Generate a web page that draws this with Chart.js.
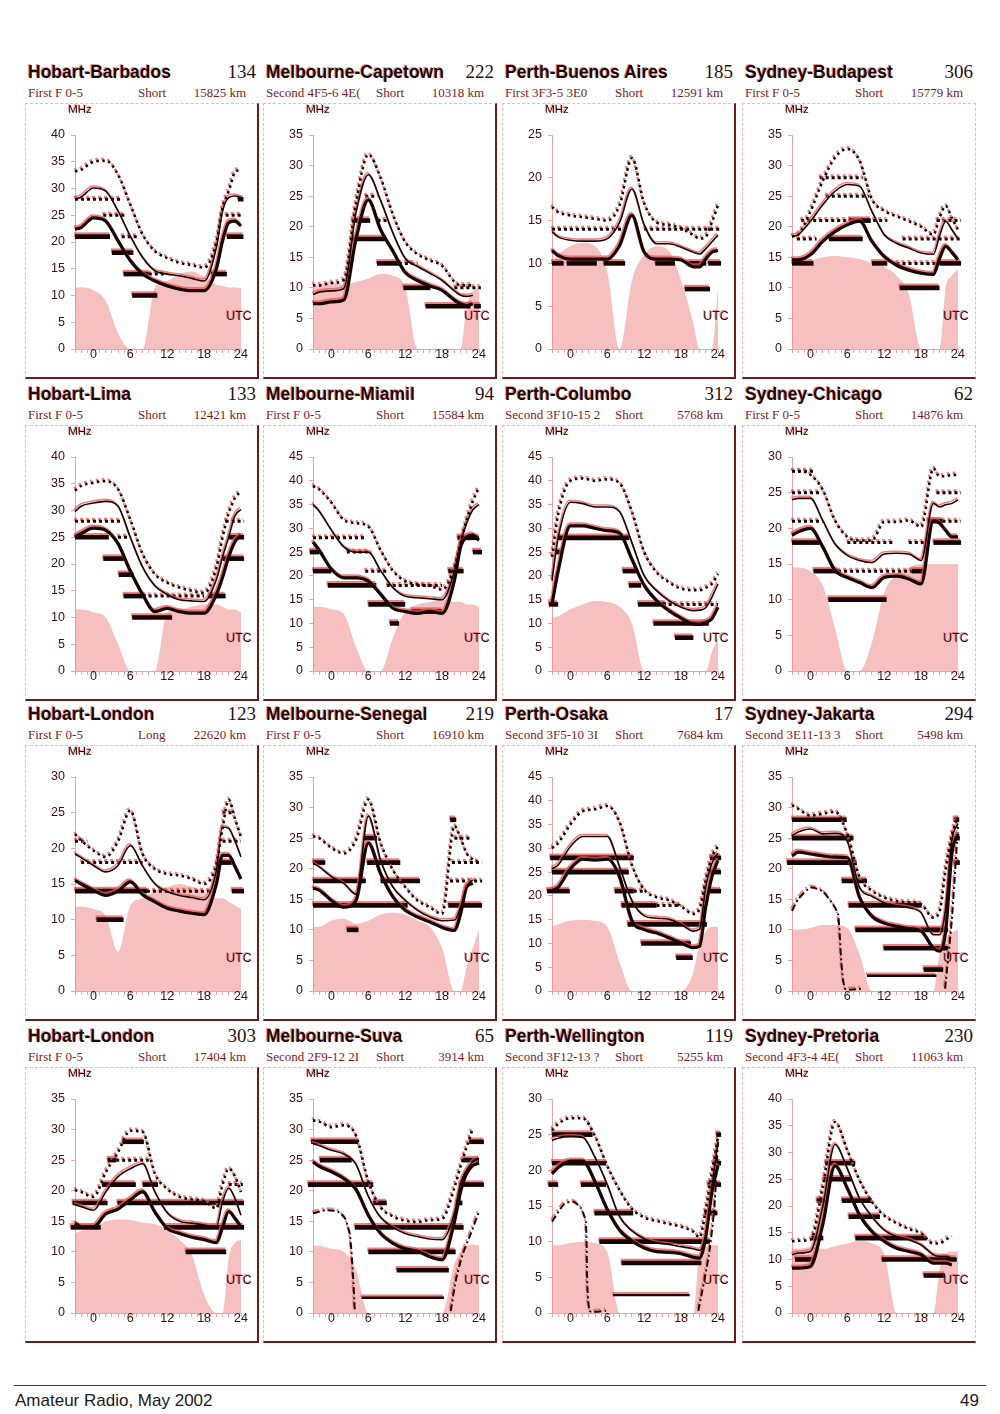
<!DOCTYPE html>
<html>
<head>
<meta charset="utf-8">
<script src="https://cdn.jsdelivr.net/npm/chart.js@4.4.1/dist/chart.umd.min.js"></script>
<style>
  body { margin: 0; background: #fff; }
  #page { position: relative; width: 1000px; height: 1414px; background: #fff; overflow: hidden;
          font-family: "Liberation Sans", Arial, sans-serif; }
  .title { position: absolute; font-weight: bold; font-size: 17.5px; line-height: 20px; color: #1c0606;
           white-space: nowrap; text-shadow: -1px -1px 0 rgba(225, 60, 60, .55); }
  .num { position: absolute; font-family: "Liberation Serif", "Times New Roman", serif; font-size: 19px;
         line-height: 20px; color: #261010; text-align: right; }
  .sub { position: absolute; font-family: "Liberation Serif", "Times New Roman", serif; font-size: 13px;
         line-height: 14px; color: #7a1c1c; white-space: nowrap; }
  .sub .m { display: inline-block; min-width: 110px; }
  .sub .d { position: absolute; right: 0; top: 0; }
  .box { position: absolute; box-sizing: border-box; border-left: 1px dashed #efb5b5; border-top: 1px dashed #efb5b5;
         border-right: 2px solid #6b1b1b; border-bottom: 2px solid #6b1b1b; }
  .box.last { border-right: 1px dashed #efb5b5; }
  canvas { position: absolute; }
  .foot { position: absolute; font-size: 17px; color: #1a1a1a; line-height: 20px; }
</style>
</head>
<body>
<div id="page">
  <div style="position:absolute;left:14px;top:1385px;width:972px;height:1px;background:#3a3a3a"></div>
  <div class="foot" style="left:15px;top:1391px">Amateur Radio, May 2002</div>
  <div class="foot" style="right:21px;top:1391px">49</div>
</div>
<script>
// hours of the day shared by every curve (UTC)
const HOURS = [-3, -2, 0, 2, 4, 6, 8, 10, 12, 14, 16, 18, 20, 21, 22, 23, 24];
const X_LABELS = [0, 6, 12, 18, 24];

const ROUTES = ['Hobart-Barbados', 'Melbourne-Capetown', 'Perth-Buenos Aires', 'Sydney-Budapest',
  'Hobart-Lima', 'Melbourne-Miamil', 'Perth-Columbo', 'Sydney-Chicago',
  'Hobart-London', 'Melbourne-Senegal', 'Perth-Osaka', 'Sydney-Jakarta',
  'Hobart-London', 'Melbourne-Suva', 'Perth-Wellington', 'Sydney-Pretoria'];
const BEARINGS = ['134', '222', '185', '306', '133', '94', '312', '62', '123', '219', '17', '294', '303', '65', '119', '230'];
const MODES = ['First F 0-5', 'Second 4F5-6 4E(', 'First 3F3-5 3E0', 'First F 0-5',
  'First F 0-5', 'First F 0-5', 'Second 3F10-15 2', 'First F 0-5',
  'First F 0-5', 'First F 0-5', 'Second 3F5-10 3I', 'Second 3E11-13 3',
  'First F 0-5', 'Second 2F9-12 2I', 'Second 3F12-13 ?', 'Second 4F3-4 4E('];
const PATHS = ['Short', 'Short', 'Short', 'Short', 'Short', 'Short', 'Short', 'Short',
  'Long', 'Short', 'Short', 'Short', 'Short', 'Short', 'Short', 'Short'];
const DISTANCES = ['15825 km', '10318 km', '12591 km', '15779 km', '12421 km', '15584 km', '5768 km', '14876 km',
  '22620 km', '16910 km', '7684 km', '5498 km', '17404 km', '3914 km', '5255 km', '11063 km'];
const Y_MAX = [40, 35, 25, 35, 40, 45, 45, 30, 30, 35, 45, 35, 35, 35, 30, 40];

// Hobart-Barbados
const p1Dot = [33.2, 33.5, 35, 35.2, 32.6, 27, 21.4, 18.3, 17, 16.1, 15.7, 15.2, 20, 26.4, 29.5, 33, 33.5];
const p1Thin = [28, 28.4, 30.1, 29.5, 25.8, 21.1, 17.1, 14.6, 14, 13.7, 13.2, 12.7, 19, 25.8, 28.3, 28.6, 28.3];
const p1Thick = [22.4, 22.7, 24.5, 23.9, 20.2, 16.5, 14, 12.7, 11.8, 11.2, 10.9, 10.9, 15, 20.2, 23.6, 23.9, 23];
const p1Area = [11.5, 11.5, 11, 9, 3, 0, 0, 11.5, 12.7, 14, 14.5, 13.5, 12, 11.8, 11.5, 11.5, 11.3];
const p1Bands = [[21, -3, 2.7, 's'], [18, 3, 6.5, 's'], [14, 4.9, 9, 's'], [10, 6.3, 10.4, 's'], [14, 19.1, 21.7, 's'],
  [21, 21.7, 24.4, 's'], [28, 23.5, 24.4, 's'], [28, -3, 4.6, 'd'], [25, 1.6, 5.2, 'd'], [21, 4.6, 7.1, 'd'],
  [14, 9, 12, 'd'], [25, 21.5, 24.4, 'd']];

// Melbourne-Capetown
const p2Dot = [10.4, 10.4, 10.8, 11.3, 24, 31.8, 28, 22, 17.5, 15.5, 14.5, 13.6, 11, 10.4, 10.4, 10.4, null];
const p2Thin = [8.9, 9.3, 9.5, 9.9, 22.3, 28.5, 24.3, 19, 14.8, 13.5, 12.4, 11.2, 9.5, 8.8, 8.6, 8.8, null];
const p2Thick = [7.4, 7.4, 7.7, 8, 18, 24.4, 19.5, 16, 12.5, 11.2, 10.3, 9.6, 8, 7.4, 7.1, 7.4, null];
const p2Area = [10, 10.5, 11, 10.5, 11, 11.5, 12.3, 12, 10, 0, 0, 0, 0, 0, 7, 9.5, 10];
const p2Bands = [[21, 3.3, 6.3, 's'], [18, 3.3, 8.7, 's'], [14, 7.4, 11.2, 's'], [10, 11.7, 16.1, 's'], [7, 15.3, 22.6, 's'],
  [7, 23.2, 24.3, 's'], [25, 5.5, 7.5, 'd'], [21, 7.5, 9, 'd'], [14, 10, 14, 'd'], [10, 20, 24.3, 'd']];

// Perth-Buenos Aires
const p3Dot = [16.6, 16, 15.6, 15.4, 15.2, 15, 16.8, 22.3, 17, 14.8, 14.5, 14.1, 13.3, 12.9, 13.1, 14.8, 16.8];
const p3Thin = [13.7, 13.1, 12.7, 12.6, 12.6, 12.9, 14.8, 18.7, 14.5, 12.3, 12.3, 11.9, 11.3, 11.1, 11.7, 12.5, 13.3];
const p3Thick = [11.5, 10.9, 10.5, 10.5, 10.5, 10.5, 12.1, 15.6, 11.3, 10.5, 10.5, 10.4, 9.6, 9.6, 10.5, 11.3, 11.5];
const p3Area = [10, 11, 12, 12.4, 12, 9, 0, 8, 11, 12, 11.5, 8, 3, 0, 0, 0, 7];
const p3Bands = [[10, -3, -1.1, 's'], [10, -0.6, 4.3, 's'], [10, 5.4, 8.9, 's'], [10, 13.8, 17, 's'], [10, 18.9, 22.1, 's'],
  [10, 22.4, 24.5, 's'], [7, 18.6, 22.7, 's'], [14, -3, 8.5, 'd'], [14, 12, 24.3, 'd']];

// Sydney-Budapest
const p4Dot = [18.4, 18.7, 22.5, 27.5, 31.3, 32.7, 30.8, 24.5, 22.6, 21.7, 20.9, 20, 18.7, 21.5, 23.4, 21.4, 19.5];
const p4Thin = [18.4, 18.7, 20.9, 23.6, 25.8, 26.9, 26.6, 22.5, 18.7, 17.3, 16.5, 15.7, 15.5, 18.5, 20.9, 19.5, 18];
const p4Thick = [14.6, 14.6, 15.4, 17.6, 19.2, 20.3, 20.9, 17.6, 15.1, 13.7, 12.9, 12.4, 12.2, 14.8, 16.8, 15.8, 14.6];
const p4Area = [14, 14.2, 14.5, 15, 15.2, 15, 14.7, 14, 13.5, 12, 9, 0, 0, 0, 10, 12, 13];
const p4Bands = [[14, -3, 0.5, 's'], [18, 3, 8.5, 's'], [21, 6.3, 9.8, 's'], [14, 10, 12.5, 's'], [10, 14.5, 21, 's'],
  [14, 21, 24.5, 's'], [28, 1.5, 8.5, 'd'], [25, 2.5, 9.5, 'd'], [21, -1.5, 12.5, 'd'], [21, 20.5, 24.5, 'd'],
  [18, -2.2, 1, 'd'], [18, 15, 24.3, 'd'], [14, 14, 21, 'd']];

// Hobart-Lima
const p5Dot = [33.7, 34.6, 35.2, 35.5, 34, 28.3, 21.9, 18.1, 16.5, 15.6, 15, 14.6, 19.4, 25, 29.5, 32.3, 33.6];
const p5Thin = [29.8, 30.8, 31.4, 31.7, 30.8, 25, 19.4, 15.9, 14.3, 13.3, 13.1, 13, 17.1, 21.3, 25, 29, 30.2];
const p5Thick = [25, 25.7, 26.7, 26.3, 23.8, 18.7, 14.3, 11.1, 11.7, 11.1, 10.8, 10.8, 14.3, 17.5, 21.3, 24.1, 25.4];
const p5Area = [11.5, 11.5, 11, 10, 5, 0, 0, 0, 11, 11.5, 12, 12.5, 12.5, 12, 11.5, 11.5, 11];
const p5Bands = [[25, -3, 2.5, 's'], [21, 1.6, 5.2, 's'], [18, 4.1, 6.5, 's'], [14, 4.9, 8.5, 's'], [10, 6.3, 12.8, 's'],
  [14, 18.8, 21.5, 's'], [21, 21, 24.5, 's'], [25, 22, 24.5, 's'], [28, -3, 4.5, 'd'], [25, 4, 6, 'd'],
  [14, 8, 18, 'd'], [28, 21.5, 24.5, 'd']];

// Melbourne-Miamil
const p6Dot = [38.9, 38.2, 35.4, 31.8, 31.1, 30.4, 25.4, 21.1, 18.9, 18.2, 17.9, 17.1, 21.8, 26.8, 31.8, 35.7, 38.6];
const p6Thin = [35, 33.6, 29.6, 26.1, 25, 25, 21.1, 17.5, 15.7, 15.4, 15.2, 15, 21, 27, 31.1, 33.9, 35];
const p6Thick = [27.1, 25.4, 21.4, 19.6, 19.6, 18.9, 16.1, 13.2, 12.5, 12.1, 12.5, 12.1, 19, 26, 28.2, 28.6, 27.5];
const p6Area = [13.5, 13.5, 13, 12, 5, 0, 0, 7, 12.5, 14, 14.5, 15, 14.5, 14.5, 14, 14, 13.5];
const p6Bands = [[25, -3.5, -2, 's'], [21, -3, 0, 's'], [18, -0.6, 7.3, 's'], [14, 6, 12, 's'], [10, 9.5, 11, 's'],
  [12.5, 13, 18, 's'], [21, 19, 21.5, 's'], [28, 20.5, 24, 's'], [25, 23, 24.5, 's'], [28, -3, 5.5, 'd'],
  [25, 2.5, 6.5, 'd'], [21, 5.5, 9, 'd'], [18, 9, 18, 'd']];

// Perth-Columbo
const p7Dot = [24, 33, 40, 40.5, 40, 40.3, 39.5, 33.5, 25, 20.8, 18.7, 17.3, 17, 17, 17.5, 18.3, 20.4];
const p7Thin = [19, 28, 35.5, 35.2, 34.5, 34.5, 33.5, 27, 20, 16.9, 14.8, 13.4, 12.7, 12.8, 13.3, 15.5, 18.3];
const p7Thick = [14, 21, 30.5, 30.5, 30, 29.5, 29, 23.5, 18, 14.8, 12.7, 11.1, 9.9, 9.8, 10.2, 11, 13.4];
const p7Area = [11, 11.5, 13, 14, 14.7, 14.5, 13.5, 10, 0, 0, 0, 0, 0, 0, 0, 4, 7];
const p7Bands = [[28, -2, 9.6, 's'], [25, -2.5, -1.5, 's'], [14, -3.5, -2, 's'], [21, 8.5, 11, 's'], [18, 9.5, 11.5, 's'],
  [14, 11, 15.5, 's'], [10, 13.5, 22.5, 's'], [7, 17, 20, 's'], [14, 15, 24, 'd']];

// Sydney-Chicago
const p8Dot = [28, 28, 27.5, 25.4, 21.1, 18.8, 18.3, 18.3, 20.9, 20.9, 21.1, 20.2, 28.4, 27.3, 27.3, 27.5, 27.5];
const p8Thin = [24, 24.2, 24.2, 21.1, 17.8, 16.2, 15.5, 15.2, 16.4, 16.5, 16.4, 15.5, 23.5, 23, 23.3, 23.5, 24];
const p8Thick = [19, 19.5, 20, 17.4, 14.1, 13.1, 12.4, 11.7, 13.1, 13.3, 12.9, 12.2, 21.1, 20.7, 19.7, 18.8, 18.8];
const p8Area = [14.5, 14.5, 14, 12, 6, 0, 0, 4, 11, 13.5, 14.5, 15, 15, 15, 15, 15, 15];
const p8Bands = [[18, -3, 1.5, 's'], [14, 0.5, 4.5, 's'], [10, 2.9, 12.4, 's'], [14, 16.5, 18.5, 's'], [21, 19, 21.5, 's'],
  [18, 20, 24.5, 's'], [28, -3, 0.5, 'd'], [25, -3, 1.5, 'd'], [21, -3, 2, 'd'], [14, 4.5, 17, 'd'],
  [18, 6, 13.5, 'd'], [18, 16, 19, 'd'], [25, 20.5, 24.5, 'd'], [21, 20.5, 24.5, 'd']];

// Hobart-London (long path)
const p9Dot = [22, 21.1, 19.7, 18.8, 21, 25.3, 19.2, 17.1, 16.4, 16.2, 15.7, 15, 17.8, 22.8, 26.8, 24.2, 21.6];
const p9Thin = [19.2, 18.7, 17.6, 16.7, 17.6, 20.4, 17.5, 15, 13.9, 13.4, 13.1, 12.8, 16.9, 23, 22.8, 21.1, 18.8];
const p9Thick = [15.5, 15, 14.1, 13.4, 14, 15.3, 13.5, 12.5, 11.6, 11.2, 10.9, 10.7, 15, 19, 19, 17.5, 15.7];
const p9Area = [11.8, 11.8, 11.5, 10.5, 5.5, 12, 13, 14, 14.6, 15, 14.6, 14, 13, 13, 12.5, 12, 11.5];
const p9Bands = [[14, -3, 8.7, 's'], [10, 0.5, 4.9, 's'], [18, 20, 22.5, 's'], [14, 22.5, 24.5, 's'], [21, -3, -1, 'd'],
  [18, -2, 8, 'd'], [14, 8.7, 20, 'd'], [21, 21, 24, 'd'], [25, 21, 23, 'd']];

// Melbourne-Senegal
const p10Dot = [25.3, 25, 23.4, 22.5, 24.7, 31.3, 24.2, 19.8, 17, 14.8, 13.7, 12.6, 27, 25, 22.5, 21.5, 21];
const p10Thin = [20.9, 20.3, 18.7, 17.6, 15.8, 28.6, 21.4, 17, 14.8, 13.2, 12.1, 11.5, 11.6, 13.7, 17, 18.2, null];
const p10Thick = [16.8, 16.5, 14.8, 13.7, 14.8, 24.2, 19.2, 15.4, 13.2, 12.1, 11.3, 10.4, 9.9, 12.6, 17, 17.6, null];
const p10Area = [10.5, 10.5, 11.5, 11.8, 11, 11.5, 12.5, 12.8, 12.5, 11.5, 10.5, 7, 0, 0, 4, 7, 10];
const p10Bands = [[21, -3, -1, 's'], [18, -3, 5.6, 's'], [14, -3, 12.4, 's'], [10, 2.5, 4.4, 's'], [25, 5.3, 7.4, 's'],
  [21, 5.8, 11.2, 's'], [18, 8, 14.4, 's'], [28, 19.3, 20.3, 's'], [25, 20, 22.5, 'd'], [21, 19.6, 24.5, 'd'],
  [18, 19.3, 24.5, 'd'], [14, 19, 24.5, 's']];

// Perth-Osaka
const p11Dot = [30, 31.1, 35, 37.8, 38.2, 38.9, 35.5, 26.5, 21.3, 19.7, 19.1, 17.8, 16.2, 17.3, 23.3, 28.2, 30.4];
const p11Thin = [25.7, 26.5, 30.4, 32.5, 32.5, 32.5, 26.1, 19, 15.8, 15.3, 15.1, 14, 12.6, 13, 21.8, 26.8, 29];
const p11Thick = [21.1, 21.8, 25.7, 27.7, 27.5, 27.7, 24, 14.8, 12.9, 12.2, 11.2, 10.1, 9.1, 9.4, 17.6, 24, 27.5];
const p11Area = [13.5, 14, 14.8, 15, 14.7, 13.5, 6, 0, 0, 0, 0, 0, 4, 10, 12.5, 13.5, 13.5];
const p11Bands = [[28, -3.3, 10.3, 's'], [25, -3, 9.5, 's'], [21, -3.8, -0.1, 's'], [21, 7.2, 10.3, 's'], [18, 8.3, 14, 's'],
  [14, 9.3, 22.2, 's'], [10, 11.5, 19.6, 's'], [7, 17.2, 19.9, 's'], [28, 22.7, 24.5, 's'], [25, 22.7, 24.5, 's'],
  [21, 22.7, 24.5, 's'], [21, 10.3, 12, 'd'], [18, 14, 18, 'd']];

// Sydney-Jakarta
const p12Dot = [30.4, 29.8, 28.7, 29, 29.3, 25.7, 18.6, 16.4, 15.3, 14.7, 14.5, 14.2, 12, 13, 20, 25.5, 28.5];
const p12Thin = [25.4, 26, 26.5, 25.7, 25.8, 24.5, 16.9, 15.5, 14.4, 13.9, 13.6, 12.8, 9.2, 9.2, 13.6, 24.6, 27.4];
const p12Thick = [22.1, 22.7, 22.4, 22.1, 21.9, 21.8, 15.3, 12.2, 11.1, 10.6, 10.2, 9.8, 7, 6.5, 9.8, 22.4, 25.7];
const p12Low = [[-3, 13.1], [-2, 15], [0, 16.9], [2, 16.3], [3.7, 14.1], [4.5, 12.5], [5.6, 0.4], [8.6, 0.4], [8.6, null],
  [21.9, 0.4], [23, 11.7], [24, 27]];
const p12Area = [10, 10, 10.3, 10.8, 10.8, 10.3, 6, 0, 0, 0, 0, 0, 0, 6, 8.5, 9.5, 10];
const p12Bands = [[28, -3, 5.9, 's'], [25, -3, 7, 's'], [21, -3.8, 7.5, 's'], [18, 5.1, 9.2, 's'], [14, 6.2, 18.1, 's'],
  [10, 7.3, 22.4, 's'], [7, 11.9, 22.4, 's'], [2.5, 9.2, 20.5, 't'], [3.5, 18.4, 21.6, 's'], [28, 23.3, 24.2, 's'],
  [25, 23.3, 24.3, 's'], [21, 23.3, 24.3, 's']];

// Hobart-London (short path)
const p13Dot = [20.1, 19.8, 19, 23, 26.3, 29.8, 29.6, 22.8, 20.3, 19, 18.6, 18.3, 17.1, 21, 23.6, 22.4, 19.8];
const p13Thin = [17.7, 17.4, 16.8, 19.8, 22.3, 23.6, 24.4, 19.8, 16.4, 15, 14.7, 14.4, 14.1, 18.2, 20.4, 18.8, 16];
const p13Thick = [14.7, 14.1, 14.1, 16.2, 17, 18.5, 19.8, 16.5, 13.8, 13, 12.4, 12, 11.5, 14, 16.6, 15.5, 14.1];
const p13Area = [13, 13.5, 14, 15, 15.3, 15.2, 14.8, 14.5, 13.5, 12, 9.5, 3, 0, 0, 9, 11.5, 12];
const p13Bands = [[18, -3.4, 2.3, 's'], [18, 3.9, 24.5, 's'], [14, -3.7, 1.2, 's'], [14, 11.5, 24.5, 's'], [10, 15, 21.6, 's'],
  [21, 1.4, 6.9, 's'], [21, 8, 10.5, 's'], [25, 2.3, 3.7, 's'], [28, 4.7, 8.2, 's'], [25, 3.7, 9, 'd'], [21, 22, 24.3, 'd']];

// Melbourne-Suva
const p14Dot = [31.5, 31.3, 30.4, 30.7, 29, 21.5, 17.3, 15.8, 15.1, 14.9, 15.2, 15.4, 20.5, 24, 27.2, 30.2, null];
const p14Thin = [27.7, 27.4, 26.6, 26, 24.3, 19.1, 15.6, 14, 13, 12.5, 12.1, 12, 16.3, 21.2, 23.4, 24.7, 25.3];
const p14Thick = [24.7, 24, 23.1, 22, 20.2, 16, 13, 11.4, 10.5, 10.1, 9.2, 8.7, 14.9, 19.8, 22.8, 24.1, 24.5];
const p14Low = [[-3, 16.3], [-1, 16.8], [1, 16.6], [2.2, 15.5], [3, 12.8], [3.5, 6.3], [3.8, 0.3], [3.8, null],
  [19.4, 0.3], [20.2, 5.2], [21.3, 9.5], [22.6, 12.8], [24, 16.6]];
const p14Area = [11, 11, 10.5, 10, 7, 0, 0, 0, 0, 0, 0, 0, 8, 10, 11, 11.2, 11];
const p14Bands = [[28, -3.3, 4.4, 's'], [25, -1.9, 3.3, 's'], [21, -3.8, 6.8, 's'], [18, 6.8, 9, 's'], [14, 3.8, 21.5, 's'],
  [10, 6, 20.2, 's'], [7, 10.6, 19.1, 's'], [2.5, 4.9, 18.3, 't'], [28, 22.4, 24.8, 's'], [25, 21.3, 24, 's'],
  [21, 20.8, 24.8, 's'], [18, 20.2, 21.3, 's']];

// Perth-Wellington
const p15Dot = [25.6, 26.5, 27.3, 27.3, 24.8, 20.6, 17.2, 14.6, 13.4, 12.9, 12.5, 12.1, 11.4, 10.6, 14.4, 19.7, 24.6];
const p15Thin = [24.2, 24.5, 24.7, 24.6, 21.8, 18, 13.5, 11.5, 10.4, 9.8, 9.6, 9.3, 9, 8.8, 11, 17.6, 24];
const p15Thick = [19.5, 20.4, 21.3, 21.3, 18.4, 14.5, 11.6, 10.1, 9.1, 8.6, 8.5, 8.3, 7.8, 7.7, 10.6, 16.9, 20.7];
const p15Low = [[-3, 12.8], [-1, 15.3], [0.5, 15.6], [1.7, 14.7], [2.5, 12.8], [3.1, 0.3], [5.8, 0.3], [5.8, null],
  [20.8, 0.3], [22.5, 8], [23.4, 14.7], [24, 24]];
const p15Area = [9.5, 9.5, 9.8, 10, 9.8, 8.5, 0, 0, 0, 0, 0, 0, 0, 8.5, 9.3, 9.5, 9.5];
const p15Bands = [[25, -3, 3.6, 's'], [21, -3, 5.8, 's'], [18, -3.6, -2, 's'], [18, 1.7, 5.8, 's'], [14, 3.9, 10.2, 's'],
  [10, 4.7, 22.7, 's'], [7, 8.3, 21.3, 's'], [2.5, 6.9, 19.4, 't'], [25, 23.7, 24.5, 's'], [21, 23.2, 24.5, 's'],
  [18, 22.3, 24.5, 's'], [14, 21.8, 23.9, 's']];

// Sydney-Pretoria
const p16Dot = [13.4, 13.5, 13.7, 23.6, 35.7, 30.4, 24.8, 20.8, 18.2, 16.8, 15.7, 14.9, 13, 13, 13.7, 14.3, null];
const p16Thin = [10.9, 11.2, 11.5, 19.9, 31.5, 27, 21.4, 18, 15.5, 14.3, 13.7, 12.7, 10.9, 10.6, 10.6, 10.2, null];
const p16Thick = [8.4, 8.4, 8.7, 16.5, 27.5, 23.3, 18.3, 15.2, 13.4, 12.1, 11.5, 10.9, 9.3, 9.3, 9.3, 9, null];
const p16Area = [12, 12, 12.3, 12, 12.5, 13, 13.5, 13, 11, 0, 0, 0, 0, 8, 11, 11.5, 11.5];
const p16Bands = [[10, -2.5, 0.5, 's'], [14, 0.2, 2.1, 's'], [21, 1, 2.4, 's'], [25, 2.1, 6.7, 's'], [28, 2.4, 7.3, 's'],
  [21, 5.1, 10, 's'], [18, 6.2, 11.3, 's'], [14, 7.3, 18.9, 's'], [10, 11.6, 23.8, 's'], [7, 18.4, 21.9, 's']];

const PANELS = [
  [p1Dot, p1Thin, p1Thick, p1Area, p1Bands, null], [p2Dot, p2Thin, p2Thick, p2Area, p2Bands, null],
  [p3Dot, p3Thin, p3Thick, p3Area, p3Bands, null], [p4Dot, p4Thin, p4Thick, p4Area, p4Bands, null],
  [p5Dot, p5Thin, p5Thick, p5Area, p5Bands, null], [p6Dot, p6Thin, p6Thick, p6Area, p6Bands, null],
  [p7Dot, p7Thin, p7Thick, p7Area, p7Bands, null], [p8Dot, p8Thin, p8Thick, p8Area, p8Bands, null],
  [p9Dot, p9Thin, p9Thick, p9Area, p9Bands, null], [p10Dot, p10Thin, p10Thick, p10Area, p10Bands, null],
  [p11Dot, p11Thin, p11Thick, p11Area, p11Bands, null], [p12Dot, p12Thin, p12Thick, p12Area, p12Bands, p12Low],
  [p13Dot, p13Thin, p13Thick, p13Area, p13Bands, null], [p14Dot, p14Thin, p14Thick, p14Area, p14Bands, p14Low],
  [p15Dot, p15Thin, p15Thick, p15Area, p15Bands, p15Low], [p16Dot, p16Thin, p16Thick, p16Area, p16Bands, null]
];

const COL_LEFT = [25, 263, 502, 742];
const ROW_TOP = [103, 425, 745, 1067];
const BOX_W = 234, BOX_H = 276;
const INK = '#150505';
const AXIS = '#eaa3a3';
const TICK = '#3b0f0f';

Chart.defaults.font.family = '"Liberation Sans", Arial, sans-serif';

// the scan's red plate sits a little off the black one
const misprint = {
  id: 'misprint',
  beforeDatasetDraw(chart, args) {
    if (!chart.data.datasets[args.index].inked) return;
    const ctx = chart.ctx;
    ctx.save();
    ctx.shadowColor = 'rgba(236, 85, 85, 0.75)';
    ctx.shadowOffsetX = -1;
    ctx.shadowOffsetY = -2;
    ctx.shadowBlur = 0;
  },
  afterDatasetDraw(chart, args) {
    if (chart.data.datasets[args.index].inked) chart.ctx.restore();
  },
  afterDraw(chart) {
    const ctx = chart.ctx, area = chart.chartArea;
    ctx.save();
    ctx.fillStyle = '#2a0808';
    ctx.shadowColor = 'rgba(225, 60, 60, 0.5)';
    ctx.shadowOffsetX = -1;
    ctx.shadowOffsetY = -1;
    ctx.textAlign = 'center';
    ctx.textBaseline = 'middle';
    ctx.font = '11.5px "Liberation Sans", Arial, sans-serif';
    ctx.fillText('MHz', area.left + 5, 7);
    ctx.font = '12.5px "Liberation Sans", Arial, sans-serif';
    ctx.fillText('UTC', area.right - 2, area.bottom - 32);
    ctx.restore();
  }
};

function curve(values) {
  return HOURS.map((h, i) => ({ x: h, y: values[i] }));
}

function buildDatasets(p) {
  const [dot, thin, thick, area, bands, low] = p;
  const sets = [
    { data: curve(dot), borderColor: INK, borderWidth: 2.6, borderDash: [2.5, 3.5], inked: true },
    { data: curve(thin), borderColor: INK, borderWidth: 1.6, inked: true },
    { data: curve(thick), borderColor: INK, borderWidth: 3.2, inked: true }
  ];
  if (low) {
    sets.push({ data: low.map(([x, y]) => ({ x, y })), borderColor: INK, borderWidth: 2,
      borderDash: [7, 3, 2, 3], cubicInterpolationMode: 'default', tension: 0.2, inked: true });
  }
  bands.forEach(([f, from, to, kind]) => {
    sets.push({
      data: [{ x: from, y: f }, { x: to, y: f }],
      borderColor: INK,
      borderWidth: kind === 's' ? 4.6 : kind === 't' ? 2.4 : 3,
      borderDash: kind === 'd' ? [3, 3] : [],
      inked: true
    });
  });
  sets.push({ data: curve(area), fill: 'origin', backgroundColor: 'rgba(238, 140, 140, 0.55)',
    borderWidth: 0, order: 10 });
  return sets;
}

const page = document.getElementById('page');

PANELS.forEach((p, i) => {
  const col = i % 4, row = Math.floor(i / 4);
  const left = COL_LEFT[col], top = ROW_TOP[row];

  const title = document.createElement('div');
  title.className = 'title';
  title.style.left = (left + 3) + 'px';
  title.style.top = (top - 41) + 'px';
  title.textContent = ROUTES[i];
  page.appendChild(title);

  const num = document.createElement('div');
  num.className = 'num';
  num.style.left = left + 'px';
  num.style.width = (BOX_W - 3) + 'px';
  num.style.top = (top - 41) + 'px';
  num.textContent = BEARINGS[i];
  page.appendChild(num);

  const sub = document.createElement('div');
  sub.className = 'sub';
  sub.style.left = (left + 3) + 'px';
  sub.style.width = (BOX_W - 16) + 'px';
  sub.style.top = (top - 17) + 'px';
  sub.innerHTML = '<span class="m">' + MODES[i] + '</span><span>' + PATHS[i] + '</span><span class="d">' + DISTANCES[i] + '</span>';
  page.appendChild(sub);

  const box = document.createElement('div');
  box.className = col === 3 ? 'box last' : 'box';
  box.style.left = left + 'px';
  box.style.top = top + 'px';
  box.style.width = BOX_W + 'px';
  box.style.height = BOX_H + 'px';
  page.appendChild(box);

  const canvas = document.createElement('canvas');
  canvas.width = BOX_W;
  canvas.height = BOX_H;
  canvas.style.left = left + 'px';
  canvas.style.top = top + 'px';
  canvas.style.width = BOX_W + 'px';
  canvas.style.height = BOX_H + 'px';
  page.appendChild(canvas);

  new Chart(canvas.getContext('2d'), {
    type: 'line',
    data: { datasets: buildDatasets(p) },
    options: {
      responsive: false,
      animation: false,
      events: [],
      layout: { padding: { left: 10, right: 18, top: 32, bottom: 10 } },
      plugins: { legend: { display: false }, tooltip: { enabled: false } },
      datasets: {
        line: { pointRadius: 0, cubicInterpolationMode: 'monotone', borderCapStyle: 'butt',
          borderJoinStyle: 'round', clip: 12, spanGaps: false }
      },
      scales: {
        x: {
          type: 'linear', min: -3, max: 24,
          afterFit(scale) { scale.height = 20; },
          ticks: {
            stepSize: 1, autoSkip: false, maxRotation: 0, padding: -6, color: TICK, font: { size: 12.5 },
            callback: v => X_LABELS.includes(v) ? String(v) : ''
          },
          grid: { drawOnChartArea: false, tickLength: 4, color: AXIS },
          border: { color: AXIS }
        },
        y: {
          min: 0, max: Y_MAX[i],
          afterFit(scale) { scale.width = 40; },
          ticks: { stepSize: 5, padding: 6, color: TICK, font: { size: 12.5 } },
          grid: { drawOnChartArea: false, tickLength: 4, color: AXIS },
          border: { color: AXIS }
        }
      }
    },
    plugins: [misprint]
  });
});
</script>
</body>
</html>
